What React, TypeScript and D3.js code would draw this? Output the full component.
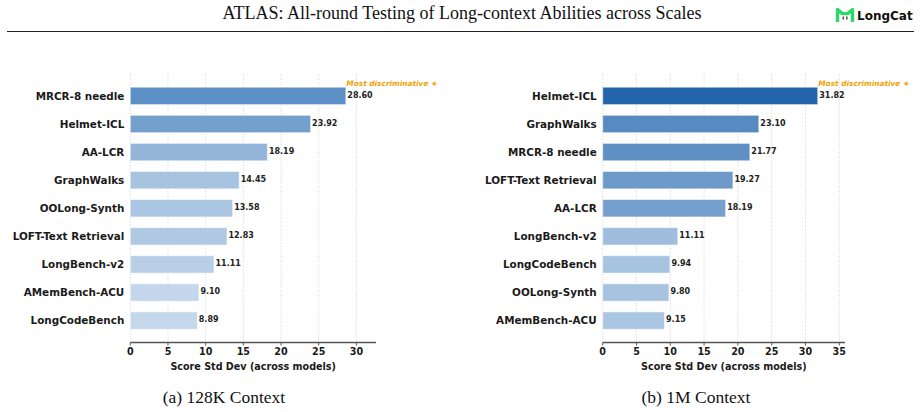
import React from "react";
import * as d3 from "d3";

// benchmarks ranked by spread of scores, 128K context
const labels128 = [
  "MRCR-8 needle",
  "Helmet-ICL",
  "AA-LCR",
  "GraphWalks",
  "OOLong-Synth",
  "LOFT-Text Retrieval",
  "LongBench-v2",
  "AMemBench-ACU",
  "LongCodeBench",
];
const values128 = [28.6, 23.92, 18.19, 14.45, 13.58, 12.83, 11.11, 9.1, 8.89];
const ticks128 = [0, 5, 10, 15, 20, 25, 30];

// same, 1M context
const labels1m = [
  "Helmet-ICL",
  "GraphWalks",
  "MRCR-8 needle",
  "LOFT-Text Retrieval",
  "AA-LCR",
  "LongBench-v2",
  "LongCodeBench",
  "OOLong-Synth",
  "AMemBench-ACU",
];
const values1m = [31.82, 23.1, 21.77, 19.27, 18.19, 11.11, 9.94, 9.8, 9.15];
const ticks1m = [0, 5, 10, 15, 20, 25, 30, 35];

const W = 921;
const H = 412;
const SANS = "'DejaVu Sans', sans-serif";
const SERIF = "'Liberation Serif', 'Times New Roman', serif";

type PanelProps = {
  labels: string[];
  values: number[];
  ticks: number[];
  xMax: number;
  x0: number;
  x1: number;
  lo: string;
  hi: string;
  caption: string;
  captionX: number;
};

const Panel = ({ labels, values, ticks, xMax, x0, x1, lo, hi, caption, captionX }: PanelProps) => {
  const top = 74;
  const bottom = 342.5;
  const x = d3.scaleLinear().domain([0, xMax]).range([x0, x1]);
  const y = d3.scaleLinear().domain([-0.78, labels.length - 1 + 0.78]).range([top, bottom]);
  const barH = (y(1) - y(0)) * 0.62;
  const color = d3
    .scaleLinear<string>()
    .domain([d3.min(values)!, d3.max(values)!])
    .range([lo, hi])
    .interpolate(d3.interpolateRgb);
  const best = d3.maxIndex(values);

  return (
    <g>
      {/* dotted vertical grid */}
      {ticks.map((t) => (
        <line
          key={"g" + t}
          x1={x(t)}
          x2={x(t)}
          y1={top}
          y2={bottom}
          stroke="#c8c8c8"
          strokeWidth={0.8}
          strokeDasharray="1,1.6"
        />
      ))}

      {values.map((v, i) => {
        const cy = y(i);
        return (
          <g key={labels[i]}>
            <rect
              x={x(0)}
              y={cy - barH / 2}
              width={x(v) - x(0)}
              height={barH}
              fill={color(v)}
              stroke="#ffffff"
              strokeOpacity={0.55}
              strokeWidth={1}
            />
            <text
              x={x0 - 6}
              y={cy}
              dy="0.36em"
              textAnchor="end"
              fontFamily={SANS}
              fontWeight="bold"
              fontSize={10.4}
              fill="#1a1a1a"
            >
              {labels[i]}
            </text>
            <text
              x={x(v) + 1.5}
              y={cy - 1}
              dy="0.36em"
              fontFamily={SANS}
              fontWeight="bold"
              fontSize={8}
              fill="#222"
            >
              {v.toFixed(2)}
            </text>
            {i === best && (
              <text
                x={x(v) + 0.5}
                y={cy - barH / 2 - 1.2}
                fontFamily={SANS}
                fontWeight="bold"
                fontStyle="italic"
                fontSize={7.4}
                fill="#f0a30a"
              >
                Most discriminative ★
              </text>
            )}
          </g>
        );
      })}

      {/* x axis */}
      <line x1={x0} x2={x1} y1={bottom} y2={bottom} stroke="#555" strokeWidth={1.3} />
      {ticks.map((t) => (
        <g key={"t" + t}>
          <line x1={x(t)} x2={x(t)} y1={bottom} y2={bottom + 3} stroke="#555" strokeWidth={1} />
          <text
            x={x(t)}
            y={bottom + 12.5}
            textAnchor="middle"
            fontFamily={SANS}
            fontWeight="bold"
            fontSize={9.6}
            fill="#1a1a1a"
          >
            {t}
          </text>
        </g>
      ))}
      <text
        x={(x0 + x1) / 2}
        y={370}
        textAnchor="middle"
        fontFamily={SANS}
        fontWeight="bold"
        fontSize={9.6}
        fill="#1a1a1a"
      >
        Score Std Dev (across models)
      </text>

      <text x={captionX} y={403} textAnchor="middle" fontFamily={SERIF} fontSize={17.5} fill="#111">
        {caption}
      </text>
    </g>
  );
};

export default function App() {
  return (
    <svg
      width={W}
      height={H}
      viewBox={`0 0 ${W} ${H}`}
      style={{ position: "absolute", left: 0, top: 0, background: "#fff" }}
    >
      <rect width={W} height={H} fill="#fff" />
      <text x={462} y={19} textAnchor="middle" fontFamily={SERIF} fontSize={18} fill="#111">
        ATLAS: All-round Testing of Long-context Abilities across Scales
      </text>

      {/* brand mark */}
      <path
        d="M837.5,22 L837.5,9.5 L842.3,13.6 L847.7,13.6 L852.5,9.5 L852.5,22"
        fill="none"
        stroke="#2bd96a"
        strokeWidth={3.4}
        strokeLinejoin="round"
      />
      <rect x={842.6} y={16.5} width={1.3} height={3} fill="#333" />
      <rect x={846.2} y={16.5} width={1.3} height={3} fill="#333" />
      <text x={857} y={20} fontFamily={SANS} fontWeight="bold" fontSize={12} fill="#111">
        LongCat
      </text>

      <line x1={7} x2={914} y1={31.5} y2={31.5} stroke="#222" strokeWidth={1.2} />

      <Panel
        labels={labels128}
        values={values128}
        ticks={ticks128}
        xMax={32.6}
        x0={130.3}
        x1={376}
        lo="#c4d7eb"
        hi="#5b8fc5"
        caption="(a) 128K Context"
        captionX={224}
      />
      <Panel
        labels={labels1m}
        values={values1m}
        ticks={ticks1m}
        xMax={35.85}
        x0={602.7}
        x1={845}
        lo="#abc6e2"
        hi="#2364aa"
        caption="(b) 1M Context"
        captionX={696}
      />
    </svg>
  );
}
